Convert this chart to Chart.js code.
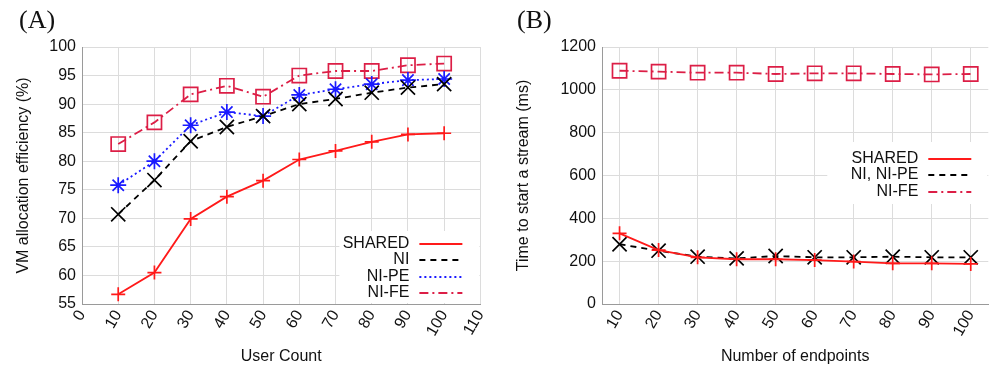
<!DOCTYPE html>
<html>
<head>
<meta charset="utf-8">
<script src="https://cdn.jsdelivr.net/npm/chart.js@4"></script>
<style>
  html, body { margin: 0; padding: 0; background: #fff; }
  .panel { position: absolute; top: 0; width: 500px; height: 368px; }
  #panelA { left: 0; }
  #panelB { left: 500px; }
</style>
</head>
<body>
<div class="panel" id="panelA"><canvas id="chartA" width="500" height="368"></canvas></div>
<div class="panel" id="panelB"><canvas id="chartB" width="500" height="368"></canvas></div>
<script>
// Panel (A): VM allocation efficiency vs user count
const userCounts = [10, 20, 30, 40, 50, 60, 70, 80, 90, 100];
const sharedA = [56.7, 60.5, 69.9, 73.8, 76.6, 80.3, 81.8, 83.4, 84.7, 84.9];
const niA = [70.7, 76.7, 83.5, 86.0, 87.9, 90.0, 90.9, 92.0, 92.9, 93.5];
const niPeA = [75.8, 80.0, 86.3, 88.6, 87.9, 91.6, 92.6, 93.5, 94.2, 94.4];
const niFeA = [83.0, 86.8, 91.7, 93.2, 91.3, 95.0, 95.8, 95.8, 96.8, 97.1];

// Panel (B): time to start a stream vs number of endpoints
const endpoints = [10, 20, 30, 40, 50, 60, 70, 80, 90, 100];
const sharedB = [330, 252, 218, 209, 209, 205, 198, 190, 190, 187];
const niB = [279, 249, 221, 213, 224, 218, 218, 221, 218, 218];
const niFeB = [1089, 1085, 1080, 1080, 1074, 1077, 1077, 1074, 1072, 1074];

const FONT = 'Liberation Sans, Arial, sans-serif';
const RED = '#ff1a1a';
const CRIMSON = '#dc1e46';
const BLUE = '#1a1aff';

function toPoints(xs, ys) {
    return xs.map((x, i) => ({ x, y: ys[i] }));
}

function series(label, xs, ys, color, dash, pointStyle, radius) {
    return {
        label,
        data: toPoints(xs, ys),
        borderColor: color,
        backgroundColor: 'transparent',
        borderWidth: 1.8,
        borderDash: dash,
        pointStyle,
        pointRadius: radius,
        pointBorderColor: color,
        pointBorderWidth: 1.7,
        pointBackgroundColor: 'transparent',
        tension: 0
    };
}

// Panel letter + in-plot legend (text right aligned, sample line on the right)
function decorPlugin(letter, letterX, legendOpts) {
    return {
        id: 'decor' + letter,
        afterDatasetsDraw(chart) {
            const ctx = chart.ctx;
            const area = chart.chartArea;
            ctx.save();
            ctx.fillStyle = '#111';
            ctx.font = '26px "Liberation Serif", serif';
            ctx.textBaseline = 'alphabetic';
            ctx.textAlign = 'left';
            ctx.fillText(letter, letterX, 28);

            const box = legendOpts.box;
            ctx.fillStyle = '#fff';
            ctx.fillRect(area.right - box.w - 1, area.bottom - box.bottom - box.h, box.w, box.h);

            ctx.font = '16px ' + FONT;
            ctx.textAlign = 'right';
            ctx.textBaseline = 'middle';
            chart.data.datasets.forEach((ds, i) => {
                const y = area.bottom - legendOpts.rows[i];
                ctx.fillStyle = '#111';
                ctx.fillText(ds.label, area.right - legendOpts.textRight, y);
                ctx.strokeStyle = ds.borderColor;
                ctx.lineWidth = 2;
                ctx.setLineDash(ds.borderDash || []);
                ctx.beginPath();
                ctx.moveTo(area.right - legendOpts.lineFrom, y);
                ctx.lineTo(area.right - legendOpts.lineTo, y);
                ctx.stroke();
                ctx.setLineDash([]);
            });
            ctx.restore();
        }
    };
}

const tickFont = { family: FONT, size: 16 };
const plain = v => String(v);

function baseScales(xOpts, yOpts, yTitle, xTitle, yWidth) {
    return {
        x: Object.assign({
            type: 'linear',
            grid: { color: '#dcdcdc', drawTicks: false },
            border: { color: '#9a9a9a' },
            title: { display: true, text: xTitle, color: '#111', font: { family: FONT, size: 16 }, padding: { top: 0, bottom: 2 } },
            afterFit(scale) { scale.height = 64; }
        }, xOpts),
        y: Object.assign({
            grid: { color: '#dcdcdc', drawTicks: false },
            border: { color: '#9a9a9a' },
            title: { display: true, text: yTitle, color: '#111', font: { family: FONT, size: 16 }, padding: { top: 0, bottom: 0 } },
            afterFit(scale) { scale.width = yWidth; }
        }, yOpts)
    };
}

function xTicks(extra) {
    return Object.assign({
        color: '#111', font: tickFont, minRotation: 60, maxRotation: 60,
        autoSkip: false, padding: 3, callback: plain
    }, extra);
}

function yTicks(extra) {
    return Object.assign({ color: '#111', font: tickFont, padding: 6, callback: plain }, extra);
}

new Chart(document.getElementById('chartA'), {
    type: 'line',
    data: {
        datasets: [
            series('SHARED', userCounts, sharedA, RED, [], 'cross', 7),
            series('NI', userCounts, niA, '#000', [6, 5], 'crossRot', 10),
            series('NI-PE', userCounts, niPeA, BLUE, [2, 3], 'star', 8),
            series('NI-FE', userCounts, niFeA, CRIMSON, [9, 4, 2, 4], 'rect', 10)
        ]
    },
    options: {
        responsive: false,
        animation: false,
        layout: { padding: { top: 47, right: 17, left: 14, bottom: 0 } },
        plugins: { legend: { display: false }, tooltip: { enabled: false } },
        scales: baseScales(
            { min: 0, max: 110, ticks: xTicks({ stepSize: 10 }) },
            { min: 55, max: 100, ticks: yTicks({ stepSize: 5 }) },
            'VM allocation efficiency (%)', 'User Count', 68
        )
    },
    plugins: [decorPlugin('(A)', 19, {
        rows: [60, 44, 27, 11],
        textRight: 71,
        lineFrom: 61,
        lineTo: 18,
        box: { w: 140, h: 72, bottom: 1 }
    })]
});

new Chart(document.getElementById('chartB'), {
    type: 'line',
    data: {
        datasets: [
            series('SHARED', endpoints, sharedB, RED, [], 'cross', 7),
            series('NI, NI-PE', endpoints, niB, '#000', [6, 5], 'crossRot', 10),
            series('NI-FE', endpoints, niFeB, CRIMSON, [9, 4, 2, 4], 'rect', 10)
        ]
    },
    options: {
        responsive: false,
        animation: false,
        layout: { padding: { top: 47, right: 7, left: 14, bottom: 0 } },
        plugins: { legend: { display: false }, tooltip: { enabled: false } },
        scales: baseScales(
            {
                min: 5.5, max: 104.5,
                ticks: xTicks({}),
                afterBuildTicks(scale) { scale.ticks = endpoints.map(v => ({ value: v })); }
            },
            { min: 0, max: 1200, ticks: yTicks({ stepSize: 200 }) },
            'Time to start a stream (ms)', 'Number of endpoints', 88
        )
    },
    plugins: [decorPlugin('(B)', 17, {
        rows: [145, 129, 112],
        textRight: 70,
        lineFrom: 60,
        lineTo: 17,
        box: { w: 160, h: 62, bottom: 100 }
    })]
});
</script>
</body>
</html>
